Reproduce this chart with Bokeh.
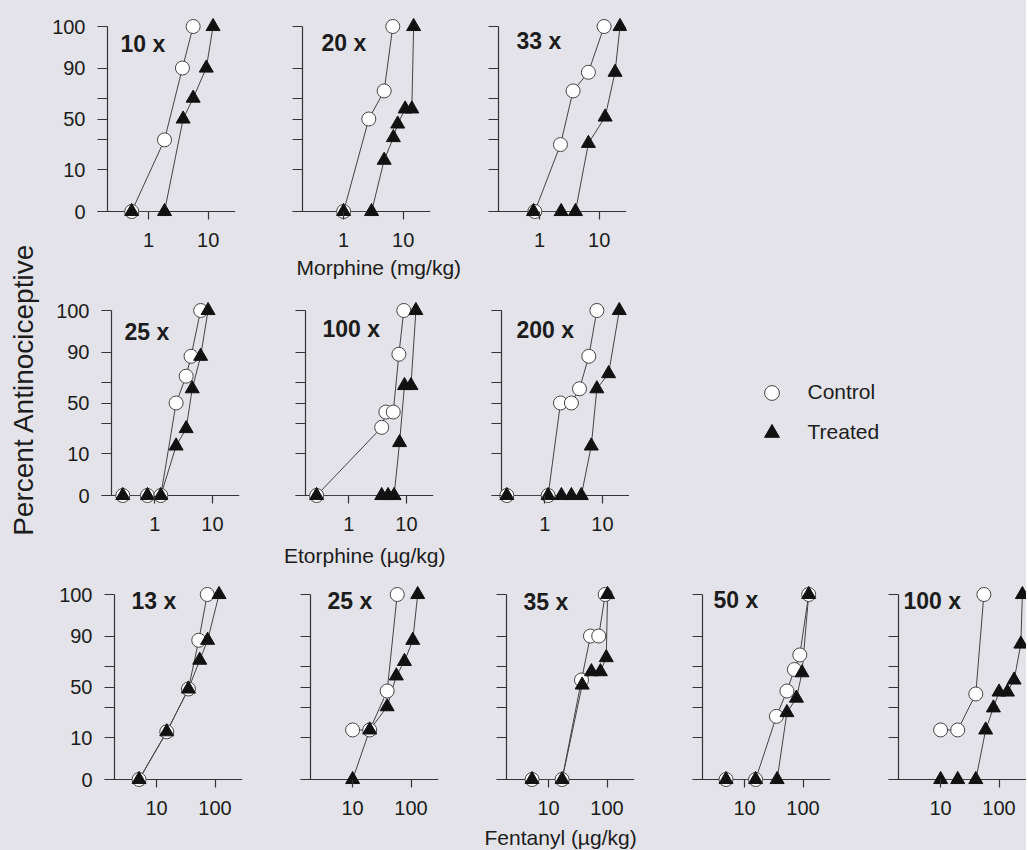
import math
from statistics import NormalDist
from bokeh.plotting import figure
from bokeh.layouts import row, column
from bokeh.models import ColumnDataSource, FixedTicker, Span, Label, Range1d, Legend, LegendItem
from bokeh.embed import file_html
from bokeh.resources import INLINE

# ---------------- data (dose, percent antinociceptive) ----------------
PCT_TICKS = [0, 10, 30, 50, 70, 90, 100]
PCT_TICK_LABELS = ["0", "10", "", "50", "", "90", "100"]
Y_TITLE = "Percent Antinociceptive"
LEGEND_LABELS = ["Control", "Treated"]

morphine_title = "Morphine (mg/kg)"
morphine_labels = ["10 x", "20 x", "33 x"]
morphine_ticks = [1, 10]
morphine_axis = [0.204, 28.8]
morphine_ctrl_dose = [[0.52, 1.85, 3.7, 5.6], [1.0, 2.65, 4.8, 6.7], [0.83, 2.24, 3.65, 6.6, 12.1]]
morphine_ctrl_pct = [[0, 30, 90, 100], [0, 50, 76, 100], [0, 26, 76, 88, 100]]
morphine_trt_dose = [[0.52, 1.85, 3.8, 5.6, 9.3, 12.1], [1.0, 2.95, 4.8, 6.85, 8.1, 10.8, 14.0, 15.0],
                     [0.79, 2.3, 4.0, 6.6, 12.6, 18.5, 22.4]]
morphine_trt_pct = [[0, 0, 50, 70, 90, 100], [0, 0, 15, 32, 45, 60, 60, 100], [0, 0, 0, 27, 52, 88, 100]]

etorphine_title = "Etorphine (µg/kg)"
etorphine_labels = ["25 x", "100 x", "200 x"]
etorphine_ticks = [1, 10]
etorphine_axis = [0.177, 29.5]
etorphine_ctrl_dose = [[0.278, 0.745, 1.27, 2.34, 3.5, 4.25, 6.24], [0.276, 3.72, 4.4, 5.9, 7.4, 9.0],
                       [0.219, 1.14, 1.87, 2.89, 4.0, 5.8, 8.0]]
etorphine_ctrl_pct = [[0, 0, 0, 50, 75, 88, 100], [0, 27, 41, 41, 89, 100], [0, 0, 50, 50, 64, 88, 100]]
etorphine_trt_dose = [[0.278, 0.745, 1.27, 2.34, 3.5, 4.46, 6.24, 8.4], [0.276, 3.72, 4.8, 6.1, 7.6, 9.25, 12.0, 14.6],
                      [0.219, 1.14, 1.94, 2.89, 4.3, 6.4, 8.0, 12.8, 19.6]]
etorphine_trt_pct = [[0, 0, 0, 14, 26, 64, 88, 100], [0, 0, 0, 0, 16, 67, 67, 100], [0, 0, 0, 0, 0, 14, 64, 77, 100]]

fentanyl_title = "Fentanyl (µg/kg)"
fentanyl_labels = ["13 x", "25 x", "35 x", "50 x", "100 x"]
fentanyl_ticks = [10, 100]
fentanyl_axis = [1.9, 295.0]
fentanyl_ctrl_dose = [[5.0, 14.9, 35, 52.6, 73.6], [10, 19.6, 39, 58], [5.2, 17, 36.5, 52, 72, 93],
                      [4.8, 15.4, 35, 53, 71, 88, 125], [10, 19.6, 40, 55]]
fentanyl_ctrl_pct = [[0, 13, 48, 88, 100], [14, 14, 46, 100], [0, 0, 57, 90, 90, 100],
                     [0, 0, 23, 46, 67, 79, 100], [14, 14, 43, 100]]
fentanyl_trt_dose = [[5.0, 14.9, 35, 54.7, 74.5, 117], [10, 19.6, 39, 56, 77, 107, 130], [5.2, 17, 37.5, 54, 77, 97, 102],
                     [4.8, 15.4, 36, 53, 77, 96, 125], [10, 19.6, 40, 59, 80, 100, 139, 181, 236, 251]]
fentanyl_trt_pct = [[0, 13, 48, 75, 88, 100], [0, 14, 31, 61, 74, 88, 100], [0, 0, 52, 65, 65, 77, 100],
                    [0, 0, 0, 26, 39, 64, 100], [0, 0, 0, 14, 30, 45, 45, 57, 86, 100]]

# ---------------- style / layout ----------------
BG = "#e3e3e9"
INK = "#1c1c1c"
AXIS = "#353535"
SER = "#444444"
FONT = "Liberation Sans"
PAGE_W = 1026
PAGE_H = 850
LEFT_W = 48
TXT_SHIFT = 7.5  # px from baseline up to the vertical centre of the text

ND = NormalDist()


def probit(p):
    return ND.inv_cdf(min(max(p, 1.0), 99.0) / 100.0)


Y_LO = probit(0)
Y_HI = probit(100)
KY = 185.0 / (Y_HI - Y_LO)
Y_START = Y_LO - 8.0 / KY
Y_END = Y_HI + 9.0 / KY
FRAME_W = 138
FRAME_H = 202
Y_TICKS = [probit(v) for v in PCT_TICKS]

# per-panel label offsets (px from y axis line, baseline px below the 100 line)
LABEL_OFF = [
    [(13, 25), (19, 24), (18, 22)],
    [(13, 29), (17, 26), (15, 27)],
    [(17, 14), (17, 14), (17, 15), (11, 13), (5, 14)],
]
ROW_FRAME_LEFT = [[97, 292, 488], [101, 295, 491], [104, 300, 496, 692, 888]]
ROW_TOP = [17, 0, 0]
ROW_BOTTOM = 36
STRIP_H = [46, 46, 27]
# axis-title baseline in each strip: (page x, px above strip bottom)
STRIP_TEXT = [(296, 27), (283.5, 23), (484, 6)]
LEGEND_AT = (629, 123.5, 52.5)  # legend figure left, legend x, legend y (from frame bottom)

drugs = [
    (morphine_title, morphine_labels, morphine_ticks, morphine_axis, morphine_ctrl_dose, morphine_ctrl_pct,
     morphine_trt_dose, morphine_trt_pct),
    (etorphine_title, etorphine_labels, etorphine_ticks, etorphine_axis, etorphine_ctrl_dose, etorphine_ctrl_pct,
     etorphine_trt_dose, etorphine_trt_pct),
    (fentanyl_title, fentanyl_labels, fentanyl_ticks, fentanyl_axis, fentanyl_ctrl_dose, fentanyl_ctrl_pct,
     fentanyl_trt_dose, fentanyl_trt_pct),
]

CIRCLE_STYLE = dict(marker="circle", size=14, fill_color="white", line_color="#454545", line_width=1)
TRI_STYLE = dict(marker="triangle", size=14, fill_color="#111111", line_color="#111111", line_width=1)


def style_fig(p):
    p.background_fill_color = BG
    p.border_fill_color = BG
    p.outline_line_color = None
    for g in p.grid:
        g.visible = False


def blank_fig(w, h):
    f = figure(width=w, height=h, x_range=Range1d(0, w), y_range=Range1d(0, h),
               output_backend="svg", toolbar_location=None, title=None, min_border=0,
               x_axis_location=None, y_axis_location=None)
    style_fig(f)
    return f


blocks = []
for r, (title, labels, xticks, axis_rng, cd, cp, td, tp) in enumerate(drugs):
    A = math.log10(axis_rng[0])
    R = math.log10(axis_rng[1])
    kx = 128.0 / (R - A)
    L0 = A - 10.0 / kx
    fls = ROW_FRAME_LEFT[r]
    canv = [LEFT_W] + [f - 12 for f in fls[1:]]
    figs = []
    h = ROW_TOP[r] + FRAME_H + ROW_BOTTOM
    for i in range(len(labels)):
        left_b = fls[i] - canv[i]
        if i + 1 < len(fls):
            right_b = canv[i + 1] - (fls[i] + FRAME_W)
        elif r == 1:
            right_b = 0
        else:
            right_b = PAGE_W - (fls[i] + FRAME_W)
        w = left_b + FRAME_W + right_b
        p = figure(width=w, height=h, x_axis_type="log",
                   x_range=Range1d(10 ** L0, 10 ** R), y_range=Range1d(Y_START, Y_END),
                   output_backend="svg", toolbar_location=None, title=None,
                   min_border_left=left_b, min_border_right=right_b,
                   min_border_top=ROW_TOP[r], min_border_bottom=ROW_BOTTOM)
        style_fig(p)

        xa = p.xaxis[0]
        xa.ticker = FixedTicker(ticks=xticks, minor_ticks=[])
        xa.major_label_overrides = {t: str(t) for t in xticks}
        xa.axis_line_color = None
        xa.major_tick_in = 8
        xa.major_tick_out = 0
        xa.major_tick_line_color = AXIS
        xa.major_tick_line_width = 1.2
        xa.minor_tick_line_color = None
        xa.major_label_text_font = FONT
        xa.major_label_text_font_size = "20px"
        xa.major_label_text_color = INK
        xa.major_label_standoff = 13

        ya = p.yaxis[0]
        ya.ticker = FixedTicker(ticks=Y_TICKS, minor_ticks=[])
        ya.axis_line_color = None
        ya.major_tick_in = 10
        ya.major_tick_out = 0
        ya.major_tick_line_color = AXIS
        ya.major_tick_line_width = 1.2
        ya.minor_tick_line_color = None
        ya.major_label_text_font = FONT
        ya.major_label_text_color = INK
        if i == 0:
            ya.major_label_overrides = {t: lab for t, lab in zip(Y_TICKS, PCT_TICK_LABELS)}
            ya.major_label_text_font_size = "20px"
            ya.major_label_standoff = 12
        else:
            ya.major_label_overrides = {t: "" for t in Y_TICKS}
            ya.major_label_text_font_size = "0px"
            ya.major_label_standoff = 0

        p.add_layout(Span(location=Y_LO, dimension="width", line_color=AXIS, line_width=1.2, level="underlay"))
        p.segment(x0=[10 ** A], y0=[Y_LO], x1=[10 ** A], y1=[Y_HI], line_color=AXIS, line_width=1.2)

        src_c = ColumnDataSource(dict(dose=cd[i], pct=cp[i], y=[probit(v) for v in cp[i]]))
        src_t = ColumnDataSource(dict(dose=td[i], pct=tp[i], y=[probit(v) for v in tp[i]]))
        p.line("dose", "y", source=src_c, line_color=SER, line_width=1)
        p.line("dose", "y", source=src_t, line_color=SER, line_width=1)
        p.scatter("dose", "y", source=src_c, **CIRCLE_STYLE)
        p.scatter("dose", "y", source=src_t, **TRI_STYLE)

        dx, dy = LABEL_OFF[r][i]
        p.add_layout(Label(x=10 ** (L0 + (10 + dx) / kx), y=Y_HI - (dy - TXT_SHIFT) / KY, text=labels[i],
                           text_font=FONT, text_font_style="bold", text_font_size="23px",
                           text_color=INK, text_align="left", text_baseline="middle"))
        figs.append(p)

    if r == 1:
        lx0, lgx, lgy = LEGEND_AT
        lf = blank_fig(PAGE_W - lx0, h)
        rc = lf.scatter(x=[-50], y=[-50], **CIRCLE_STYLE)
        rt = lf.scatter(x=[-50], y=[-50], **TRI_STYLE)
        lg = Legend(items=[LegendItem(label=LEGEND_LABELS[0], renderers=[rc]),
                           LegendItem(label=LEGEND_LABELS[1], renderers=[rt])],
                    location=(lgx, lgy), background_fill_alpha=0, border_line_color=None,
                    padding=0, margin=0, glyph_width=37, glyph_height=37, label_height=37,
                    spacing=3, label_standoff=18, label_text_font=FONT,
                    label_text_font_size="21px", label_text_color=INK)
        lf.add_layout(lg)
        figs.append(lf)

    blocks.append(row(*figs, styles={"background-color": BG}))

    sw = PAGE_W - LEFT_W
    strip = blank_fig(sw, STRIP_H[r])
    sx, sy = STRIP_TEXT[r]
    strip.add_layout(Label(x=sx - LEFT_W, y=sy + TXT_SHIFT, text=title, text_font=FONT, text_font_size="21px",
                           text_color=INK, text_align="left", text_baseline="middle"))
    blocks.append(strip)

yt = blank_fig(LEFT_W, PAGE_H)
yt.add_layout(Label(x=23, y=PAGE_H - 389, text=Y_TITLE, angle=math.pi / 2, text_align="center",
                    text_baseline="middle", text_font=FONT, text_font_size="28px", text_color=INK))

p = row(yt, column(*blocks, styles={"background-color": BG}), styles={"background-color": BG})
open("out.html", "w").write(file_html(p, INLINE))
